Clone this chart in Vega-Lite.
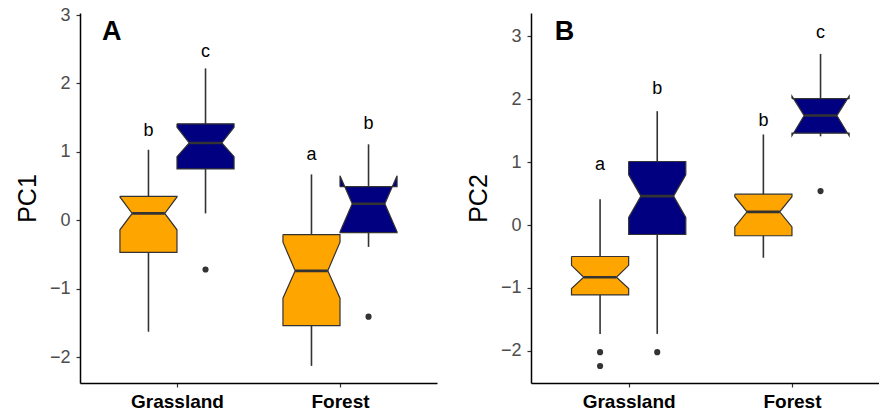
{
  "$schema": "https://vega.github.io/schema/vega-lite/v6.json",
  "background": "white",
  "padding": {"left": 15, "top": 6, "right": 0, "bottom": 0},
  "spacing": 29,
  "datasets": {
    "boxes": [
      {"panel": "A", "habitat": "Grassland", "group": "Group 1", "wLo": -1.63, "q1": -0.47, "nLo": -0.14, "med": 0.10, "nHi": 0.34, "q3": 0.35, "wHi": 1.03, "letter": "b", "ly": 1.23},
      {"panel": "A", "habitat": "Grassland", "group": "Group 2", "wLo": 0.10, "q1": 0.75, "nLo": 0.93, "med": 1.13, "nHi": 1.36, "q3": 1.41, "wHi": 2.22, "letter": "c", "ly": 2.38},
      {"panel": "A", "habitat": "Forest", "group": "Group 1", "wLo": -2.13, "q1": -1.54, "nLo": -1.14, "med": -0.74, "nHi": -0.32, "q3": -0.21, "wHi": 0.67, "letter": "a", "ly": 0.88},
      {"panel": "A", "habitat": "Forest", "group": "Group 2", "wLo": -0.39, "q1": -0.18, "nLo": -0.17, "med": 0.24, "nHi": 0.65, "q3": 0.49, "wHi": 1.11, "letter": "b", "ly": 1.33},
      {"panel": "B", "habitat": "Grassland", "group": "Group 1", "wLo": -1.73, "q1": -1.11, "nLo": -1.01, "med": -0.83, "nHi": -0.64, "q3": -0.50, "wHi": 0.41, "letter": "a", "ly": 0.88},
      {"panel": "B", "habitat": "Grassland", "group": "Group 2", "wLo": -1.73, "q1": -0.15, "nLo": 0.12, "med": 0.46, "nHi": 0.80, "q3": 1.01, "wHi": 1.81, "letter": "b", "ly": 2.08},
      {"panel": "B", "habitat": "Forest", "group": "Group 1", "wLo": -0.52, "q1": -0.17, "nLo": -0.03, "med": 0.21, "nHi": 0.45, "q3": 0.49, "wHi": 1.44, "letter": "b", "ly": 1.57},
      {"panel": "B", "habitat": "Forest", "group": "Group 2", "wLo": 1.41, "q1": 1.46, "nLo": 1.42, "med": 1.74, "nHi": 2.05, "q3": 2.01, "wHi": 2.72, "letter": "c", "ly": 2.98}
    ],
    "outliers": [
      {"panel": "A", "habitat": "Grassland", "group": "Group 2", "value": -0.72},
      {"panel": "A", "habitat": "Forest", "group": "Group 2", "value": -1.41},
      {"panel": "B", "habitat": "Grassland", "group": "Group 1", "value": -2.02},
      {"panel": "B", "habitat": "Grassland", "group": "Group 1", "value": -2.24},
      {"panel": "B", "habitat": "Grassland", "group": "Group 2", "value": -2.02},
      {"panel": "B", "habitat": "Forest", "group": "Group 2", "value": 0.54}
    ]
  },
  "hconcat": [
    {
      "width": 357,
      "height": 370,
      "layer": [
        {
          "data": {"name": "boxes"},
          "transform": [
            {"filter": "datum.panel === 'A'"},
            {"calculate": "(datum.habitat === 'Grassland' ? 1 : 2) + (datum.group === 'Group 1' ? -0.175 : 0.175)", "as": "cx"}
          ],
          "mark": {"type": "rule", "stroke": "#333333", "strokeWidth": 1.6},
          "encoding": {
            "x": {"field": "cx", "type": "quantitative", "scale": {"domain": [0.405, 2.595], "nice": false, "zero": false}, "axis": {"values": [1, 2], "labelExpr": "datum.value === 1 ? 'Grassland' : 'Forest'", "title": null}},
            "y": {"field": "wLo", "type": "quantitative", "scale": {"domain": [-2.38, 3.03], "nice": false, "zero": false}, "axis": {"values": [-2, -1, 0, 1, 2, 3], "title": "PC1"}},
            "y2": {"field": "wHi"}
          }
        },
        {
          "data": {"name": "boxes"},
          "transform": [
            {"filter": "datum.panel === 'A'"},
            {"calculate": "(datum.habitat === 'Grassland' ? 1 : 2) + (datum.group === 'Group 1' ? -0.175 : 0.175)", "as": "cx"},
            {"calculate": "[0, 1, 2, 3, 4, 5, 6, 7, 8, 9, 10]", "as": "vi"},
            {"flatten": ["vi"]},
            {"calculate": "['q3', 'nHi', 'med', 'nLo', 'q1', 'q1', 'nLo', 'med', 'nHi', 'q3', 'q3'][datum.vi]", "as": "k"},
            {"calculate": "datum[datum.k]", "as": "py"},
            {"calculate": "datum.cx + ((datum.vi >= 5 && datum.vi <= 9) ? 1 : -1) * (datum.k === 'med' ? 0.1 : 0.175)", "as": "px"}
          ],
          "mark": {"type": "line", "stroke": "#333333", "strokeWidth": 1.2, "interpolate": "linear", "strokeJoin": "miter"},
          "encoding": {
            "x": {"field": "px", "type": "quantitative", "scale": {"domain": [0.405, 2.595], "nice": false, "zero": false}, "axis": {"values": [1, 2], "labelExpr": "datum.value === 1 ? 'Grassland' : 'Forest'", "title": null}},
            "y": {"field": "py", "type": "quantitative", "scale": {"domain": [-2.38, 3.03], "nice": false, "zero": false}, "axis": {"values": [-2, -1, 0, 1, 2, 3], "title": "PC1"}},
            "order": {"field": "vi", "type": "quantitative"},
            "detail": {"field": "habitat"},
            "fill": {"field": "group", "type": "nominal", "scale": {"domain": ["Group 1", "Group 2"], "range": ["#FFA500", "#000080"]}, "legend": null}
          }
        },
        {
          "data": {"name": "boxes"},
          "transform": [
            {"filter": "datum.panel === 'A'"},
            {"calculate": "(datum.habitat === 'Grassland' ? 1 : 2) + (datum.group === 'Group 1' ? -0.175 : 0.175)", "as": "cx"},
            {"calculate": "datum.cx - 0.1", "as": "m1"},
            {"calculate": "datum.cx + 0.1", "as": "m2"}
          ],
          "mark": {"type": "rule", "stroke": "#333333", "strokeWidth": 2.6},
          "encoding": {
            "x": {"field": "m1", "type": "quantitative", "scale": {"domain": [0.405, 2.595], "nice": false, "zero": false}, "axis": {"values": [1, 2], "labelExpr": "datum.value === 1 ? 'Grassland' : 'Forest'", "title": null}},
            "x2": {"field": "m2"},
            "y": {"field": "med", "type": "quantitative", "scale": {"domain": [-2.38, 3.03], "nice": false, "zero": false}, "axis": {"values": [-2, -1, 0, 1, 2, 3], "title": "PC1"}}
          }
        },
        {
          "data": {"name": "outliers"},
          "transform": [
            {"filter": "datum.panel === 'A'"},
            {"calculate": "(datum.habitat === 'Grassland' ? 1 : 2) + (datum.group === 'Group 1' ? -0.175 : 0.175)", "as": "cx"}
          ],
          "mark": {"type": "point", "filled": true, "color": "#333333", "opacity": 1, "size": 38},
          "encoding": {
            "x": {"field": "cx", "type": "quantitative", "scale": {"domain": [0.405, 2.595], "nice": false, "zero": false}, "axis": {"values": [1, 2], "labelExpr": "datum.value === 1 ? 'Grassland' : 'Forest'", "title": null}},
            "y": {"field": "value", "type": "quantitative", "scale": {"domain": [-2.38, 3.03], "nice": false, "zero": false}, "axis": {"values": [-2, -1, 0, 1, 2, 3], "title": "PC1"}}
          }
        },
        {
          "data": {"name": "boxes"},
          "transform": [
            {"filter": "datum.panel === 'A'"},
            {"calculate": "(datum.habitat === 'Grassland' ? 1 : 2) + (datum.group === 'Group 1' ? -0.175 : 0.175)", "as": "cx"}
          ],
          "mark": {"type": "text", "fontSize": 18, "font": "Liberation Sans", "color": "black", "baseline": "alphabetic", "align": "center"},
          "encoding": {
            "x": {"field": "cx", "type": "quantitative", "scale": {"domain": [0.405, 2.595], "nice": false, "zero": false}, "axis": {"values": [1, 2], "labelExpr": "datum.value === 1 ? 'Grassland' : 'Forest'", "title": null}},
            "y": {"field": "ly", "type": "quantitative", "scale": {"domain": [-2.38, 3.03], "nice": false, "zero": false}, "axis": {"values": [-2, -1, 0, 1, 2, 3], "title": "PC1"}},
            "text": {"field": "letter"}
          }
        },
        {
          "data": {"values": [{"panel": "A"}]},
          "mark": {"type": "text", "fontSize": 27, "fontWeight": "bold", "font": "Liberation Sans", "color": "black", "baseline": "alphabetic", "align": "left"},
          "encoding": {
            "x": {"datum": 0.54, "type": "quantitative", "scale": {"domain": [0.405, 2.595], "nice": false, "zero": false}, "axis": {"values": [1, 2], "labelExpr": "datum.value === 1 ? 'Grassland' : 'Forest'", "title": null}},
            "y": {"datum": 2.634, "type": "quantitative", "scale": {"domain": [-2.38, 3.03], "nice": false, "zero": false}, "axis": {"values": [-2, -1, 0, 1, 2, 3], "title": "PC1"}},
            "text": {"field": "panel"}
          }
        }
      ]
    },
    {
      "width": 348,
      "height": 370,
      "layer": [
        {
          "data": {"name": "boxes"},
          "transform": [
            {"filter": "datum.panel === 'B'"},
            {"calculate": "(datum.habitat === 'Grassland' ? 1 : 2) + (datum.group === 'Group 1' ? -0.175 : 0.175)", "as": "cx"}
          ],
          "mark": {"type": "rule", "stroke": "#333333", "strokeWidth": 1.6},
          "encoding": {
            "x": {"field": "cx", "type": "quantitative", "scale": {"domain": [0.402, 2.533], "nice": false, "zero": false}, "axis": {"values": [1, 2], "labelExpr": "datum.value === 1 ? 'Grassland' : 'Forest'", "title": null}},
            "y": {"field": "wLo", "type": "quantitative", "scale": {"domain": [-2.51, 3.37], "nice": false, "zero": false}, "axis": {"values": [-2, -1, 0, 1, 2, 3], "title": "PC2"}},
            "y2": {"field": "wHi"}
          }
        },
        {
          "data": {"name": "boxes"},
          "transform": [
            {"filter": "datum.panel === 'B'"},
            {"calculate": "(datum.habitat === 'Grassland' ? 1 : 2) + (datum.group === 'Group 1' ? -0.175 : 0.175)", "as": "cx"},
            {"calculate": "[0, 1, 2, 3, 4, 5, 6, 7, 8, 9, 10]", "as": "vi"},
            {"flatten": ["vi"]},
            {"calculate": "['q3', 'nHi', 'med', 'nLo', 'q1', 'q1', 'nLo', 'med', 'nHi', 'q3', 'q3'][datum.vi]", "as": "k"},
            {"calculate": "datum[datum.k]", "as": "py"},
            {"calculate": "datum.cx + ((datum.vi >= 5 && datum.vi <= 9) ? 1 : -1) * (datum.k === 'med' ? 0.1 : 0.175)", "as": "px"}
          ],
          "mark": {"type": "line", "stroke": "#333333", "strokeWidth": 1.2, "interpolate": "linear", "strokeJoin": "miter"},
          "encoding": {
            "x": {"field": "px", "type": "quantitative", "scale": {"domain": [0.402, 2.533], "nice": false, "zero": false}, "axis": {"values": [1, 2], "labelExpr": "datum.value === 1 ? 'Grassland' : 'Forest'", "title": null}},
            "y": {"field": "py", "type": "quantitative", "scale": {"domain": [-2.51, 3.37], "nice": false, "zero": false}, "axis": {"values": [-2, -1, 0, 1, 2, 3], "title": "PC2"}},
            "order": {"field": "vi", "type": "quantitative"},
            "detail": {"field": "habitat"},
            "fill": {"field": "group", "type": "nominal", "scale": {"domain": ["Group 1", "Group 2"], "range": ["#FFA500", "#000080"]}, "legend": null}
          }
        },
        {
          "data": {"name": "boxes"},
          "transform": [
            {"filter": "datum.panel === 'B'"},
            {"calculate": "(datum.habitat === 'Grassland' ? 1 : 2) + (datum.group === 'Group 1' ? -0.175 : 0.175)", "as": "cx"},
            {"calculate": "datum.cx - 0.1", "as": "m1"},
            {"calculate": "datum.cx + 0.1", "as": "m2"}
          ],
          "mark": {"type": "rule", "stroke": "#333333", "strokeWidth": 2.6},
          "encoding": {
            "x": {"field": "m1", "type": "quantitative", "scale": {"domain": [0.402, 2.533], "nice": false, "zero": false}, "axis": {"values": [1, 2], "labelExpr": "datum.value === 1 ? 'Grassland' : 'Forest'", "title": null}},
            "x2": {"field": "m2"},
            "y": {"field": "med", "type": "quantitative", "scale": {"domain": [-2.51, 3.37], "nice": false, "zero": false}, "axis": {"values": [-2, -1, 0, 1, 2, 3], "title": "PC2"}}
          }
        },
        {
          "data": {"name": "outliers"},
          "transform": [
            {"filter": "datum.panel === 'B'"},
            {"calculate": "(datum.habitat === 'Grassland' ? 1 : 2) + (datum.group === 'Group 1' ? -0.175 : 0.175)", "as": "cx"}
          ],
          "mark": {"type": "point", "filled": true, "color": "#333333", "opacity": 1, "size": 38},
          "encoding": {
            "x": {"field": "cx", "type": "quantitative", "scale": {"domain": [0.402, 2.533], "nice": false, "zero": false}, "axis": {"values": [1, 2], "labelExpr": "datum.value === 1 ? 'Grassland' : 'Forest'", "title": null}},
            "y": {"field": "value", "type": "quantitative", "scale": {"domain": [-2.51, 3.37], "nice": false, "zero": false}, "axis": {"values": [-2, -1, 0, 1, 2, 3], "title": "PC2"}}
          }
        },
        {
          "data": {"name": "boxes"},
          "transform": [
            {"filter": "datum.panel === 'B'"},
            {"calculate": "(datum.habitat === 'Grassland' ? 1 : 2) + (datum.group === 'Group 1' ? -0.175 : 0.175)", "as": "cx"}
          ],
          "mark": {"type": "text", "fontSize": 18, "font": "Liberation Sans", "color": "black", "baseline": "alphabetic", "align": "center"},
          "encoding": {
            "x": {"field": "cx", "type": "quantitative", "scale": {"domain": [0.402, 2.533], "nice": false, "zero": false}, "axis": {"values": [1, 2], "labelExpr": "datum.value === 1 ? 'Grassland' : 'Forest'", "title": null}},
            "y": {"field": "ly", "type": "quantitative", "scale": {"domain": [-2.51, 3.37], "nice": false, "zero": false}, "axis": {"values": [-2, -1, 0, 1, 2, 3], "title": "PC2"}},
            "text": {"field": "letter"}
          }
        },
        {
          "data": {"values": [{"panel": "B"}]},
          "mark": {"type": "text", "fontSize": 27, "fontWeight": "bold", "font": "Liberation Sans", "color": "black", "baseline": "alphabetic", "align": "left"},
          "encoding": {
            "x": {"datum": 0.547, "type": "quantitative", "scale": {"domain": [0.402, 2.533], "nice": false, "zero": false}, "axis": {"values": [1, 2], "labelExpr": "datum.value === 1 ? 'Grassland' : 'Forest'", "title": null}},
            "y": {"datum": 2.94, "type": "quantitative", "scale": {"domain": [-2.51, 3.37], "nice": false, "zero": false}, "axis": {"values": [-2, -1, 0, 1, 2, 3], "title": "PC2"}},
            "text": {"field": "panel"}
          }
        }
      ]
    }
  ],
  "config": {
    "view": {"stroke": null},
    "font": "Liberation Sans",
    "axis": {"grid": false, "domainColor": "black", "domainWidth": 1.5, "tickColor": "#333333", "tickWidth": 1.2, "tickSize": 4, "labelFont": "Liberation Sans", "titleFont": "Liberation Sans", "labelFlush": false},
    "axisY": {"labelFontSize": 18, "labelColor": "#4D4D4D", "labelPadding": 6, "titleFontSize": 25, "titleFontWeight": "normal", "titleColor": "black", "titlePadding": 9},
    "axisX": {"labelFontSize": 19, "labelFontWeight": "bold", "labelColor": "black", "labelPadding": 5}
  }
}
